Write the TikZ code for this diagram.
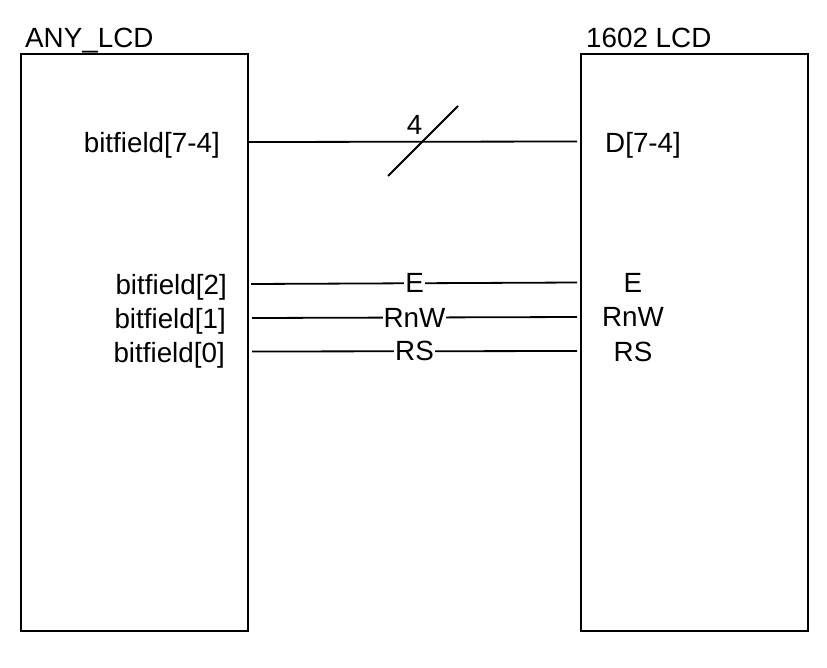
\documentclass[tikz,border=0pt]{standalone}
\usepackage{fontspec}
\setmainfont{Liberation Sans}
\begin{document}
\begin{tikzpicture}[x=1pt,y=-1pt,
  every node/.style={font=\fontsize{27.8}{32}\selectfont, inner sep=0pt},
  box/.style={draw, line width=1.8pt, minimum width=227pt, minimum height=577pt},
  wire/.style={line width=1.8pt},
  wlabel/.style={fill=white, inner xsep=1pt, inner ysep=2pt}]
\useasboundingbox (0,0) rectangle (827,667);
% boxes
\node[box] (L) at (134.5,342.5) {};
\node[box] (R) at (694.5,342.5) {};
% titles
\node[anchor=base west] (tL) at (25,47) {ANY\_LCD};
\node[anchor=base west] (tR) at (586,47) {1602 LCD};
% left labels
\node[anchor=base east] (b74) at (220,152) {bitfield[7-4]};
\node[anchor=base east] (b2) at (227,294) {bitfield[2]};
\node[anchor=base east] (b1) at (226,328) {bitfield[1]};
\node[anchor=base east] (b0) at (225,362) {bitfield[0]};
% right labels
\node[anchor=base west] (d74) at (605,152) {D[7-4]};
\node[anchor=base] (rE) at (633,292) {E};
\node[anchor=base] (rRnW) at (633,326) {RnW};
\node[anchor=base] (rRS) at (633,361) {RS};
% wire endpoints
\coordinate (a1) at (248,142);
\coordinate (a2) at (577,141.5);
\coordinate (e1) at (251,284);
\coordinate (e2) at (577,282.5);
\coordinate (w1) at (252,318);
\coordinate (w2) at (577,317);
\coordinate (s1) at (252,351.5);
\coordinate (s2) at (577,351);
\coordinate (sl1) at (388,176);
\coordinate (sl2) at (458,106);
% wires
\draw[wire] (a1) -- (a2);
\draw[wire] (sl1) -- (sl2);
\node (n4) at (414.5,125) {4};
\draw[wire] (e1) -- node[wlabel, pos=0.502] (lE) {E} (e2);
\draw[wire] (w1) -- node[wlabel, pos=0.5] (lRnW) {RnW} (w2);
\draw[wire] (s1) -- node[wlabel, pos=0.5] (lRS) {RS} (s2);
\end{tikzpicture}
\end{document}
